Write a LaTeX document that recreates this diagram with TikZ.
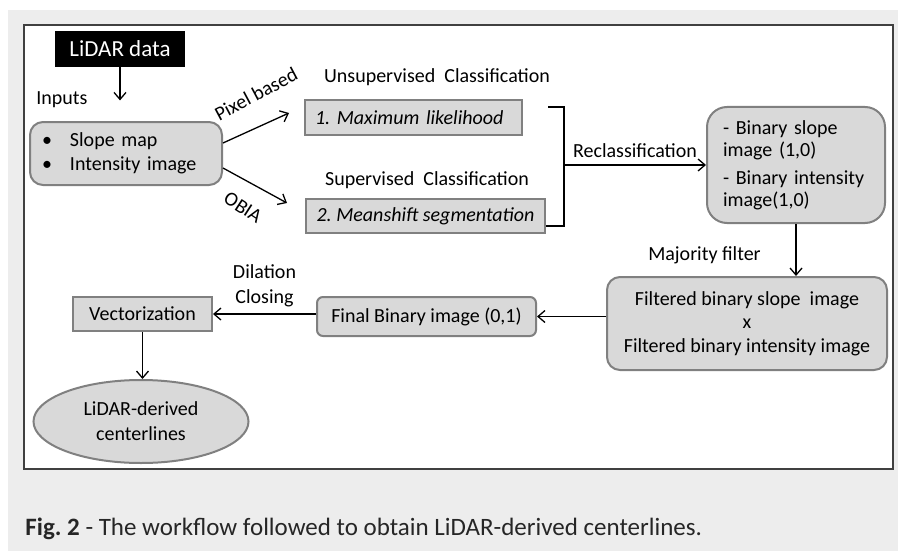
\documentclass[tikz,border=0pt]{standalone}
\usepackage{fontspec}
\setmainfont{Carlito}
\usetikzlibrary{shapes.geometric, arrows.meta}
\frenchspacing

\definecolor{bggray}{HTML}{EDEDED}
\definecolor{boxfill}{HTML}{D9D9D9}
\definecolor{boxdraw}{HTML}{808080}
\definecolor{framedraw}{HTML}{404040}

\begin{document}
\begin{tikzpicture}[
x=0.5pt, y=-0.5pt,
font=\fontsize{10}{12}\selectfont,
blank/.style={inner sep=2pt},
block/.style={rectangle, draw=boxdraw, fill=boxfill, line width=1pt, text=black},
block-src/.style={rectangle, fill=black, text=white, minimum width=65pt,
minimum height=18pt, font=\fontsize{11.5}{13}\selectfont},
block-end/.style={ellipse, draw=boxdraw, fill=boxfill, line width=1pt, minimum width=107.5pt,
minimum height=41.5pt, align=center, font=\fontsize{10}{12.5}\selectfont},
line/.style={draw, line width=0.65pt, -{Straight Barb[length=3.5pt, width=6pt]}}
]
% page and frame
\useasboundingbox (0,0) rectangle (898,551);
\fill [bggray] (8,10) rectangle (898,551);
\draw [framedraw, fill=white, line width=0.75pt] (24,25) rectangle (893,469);

\node [block-src] (lidar) at (120,49) {LiDAR data};
\node [block, rounded corners=6.5pt, node distance=52.25pt, below of=lidar, xshift=3pt,
minimum height=31.5pt, text width=84pt, inner xsep=6pt, align=left] (inputs)
{\textbullet\hspace{9pt}Slope map\\\textbullet\hspace{9pt}Intensity image};
\node [blank, node distance=26.75pt, above of=inputs, xshift=-32pt] (in-label) {Inputs};
\node [block, node distance=143.75pt, right of=inputs, yshift=18pt, text width=98.5pt,
inner xsep=5pt, minimum height=17.5pt, align=left,
font=\fontsize{10}{12}\selectfont\itshape] (ml) {1. Maximum likelihood};
\node [block, node distance=49.25pt, below of=ml, xshift=6pt, minimum width=119.5pt,
minimum height=17pt, font=\fontsize{10}{12}\selectfont\itshape] (ms) {2. Meanshift segmentation};
\node [blank, node distance=20.25pt, above of=ml, xshift=11.75pt] (unsup) {Unsupervised\ \ Classification};
\node [blank, node distance=18pt, above of=ms, xshift=0.75pt] (sup) {Supervised\ \ Classification};
\node [block, rounded corners=10pt, node distance=191.25pt, right of=ml, yshift=-23.75pt,
text width=73pt, inner xsep=8pt, minimum height=58pt, align=left,
font=\fontsize{10}{11}\selectfont] (bin)
{- Binary slope\\image (1,0)\\[3pt]- Binary intensity\\image(1,0)};
\node [block, rounded corners=6.5pt, node distance=79.25pt, below of=bin, xshift=-24.5pt,
minimum width=140pt, minimum height=46.5pt, align=center,
font=\fontsize{10}{11.75}\selectfont] (filt)
{Filtered binary slope\ \ image\\x\\Filtered binary intensity image};
\node [block, rounded corners=3pt, node distance=160.25pt, left of=filt, yshift=3.5pt,
minimum width=109.5pt, minimum height=19.5pt] (fin) {Final Binary image (0,1)};
\node [block, node distance=142pt, left of=fin, yshift=1.25pt, minimum width=69.5pt,
minimum height=17pt] (vec) {Vectorization};
\node [block-end, node distance=53.75pt, below of=vec, xshift=-0.75pt] (cl) {LiDAR-derived\\centerlines};

% free ends and bracket corners
\coordinate (lidar-end) at ([yshift=-16.5pt]lidar.south);
\coordinate (px-start) at ([yshift=5.25pt]inputs.east);
\coordinate (px-end) at ([xshift=-7.5pt, yshift=2.25pt]ml.west);
\coordinate (ob-start) at ([yshift=-7.25pt]inputs.east);
\coordinate (ob-end) at ([xshift=-9pt, yshift=6.5pt]ms.west);
\coordinate (br-top) at ([xshift=12.5pt, yshift=-4pt]ml.north east);
\coordinate (br-bot) at ([yshift=4pt]ms.south east);
\coordinate (br-x) at ([xshift=9pt]ms.east);
\coordinate (br-mid) at (br-x |- bin.west);

\path [line] (lidar) -- (lidar-end);
\path [line] (px-start) -- node [midway, yshift=17pt, rotate=28] (lbl-pixel) {Pixel based} (px-end);
\path [line] (ob-start) -- node [midway, xshift=-6pt, yshift=-11pt, rotate=-33] (lbl-obia) {OBIA} (ob-end);
\draw [line width=0.65pt] (br-top) -- (br-top -| br-x) -- (br-bot -| br-x) -- (br-bot);
\path [line] (br-mid) -- node [above] (lbl-recl) {Reclassification} (bin.west);
\path [line] (bin.south) -- node [midway, left, xshift=-14pt, yshift=-2.5pt] (lbl-maj)
{Majority filter} (bin.south |- filt.north);
\path [line] (filt.west |- fin.east) -- (fin.east);
\path [line] (fin.west |- vec.east) -- node [above, align=center,
font=\fontsize{10}{12.5}\selectfont] (lbl-dil) {Dilation\\Closing} (vec.east);
\path [line] (vec.south) -- (vec.south |- cl.north);

\node [anchor=base west, inner sep=0pt, text=black!85, font=\fontsize{12.5}{15}\selectfont]
(caption) at (25,535) {\textbf{Fig. 2} - The workflow followed to obtain LiDAR-derived centerlines.};
\end{tikzpicture}
\end{document}
